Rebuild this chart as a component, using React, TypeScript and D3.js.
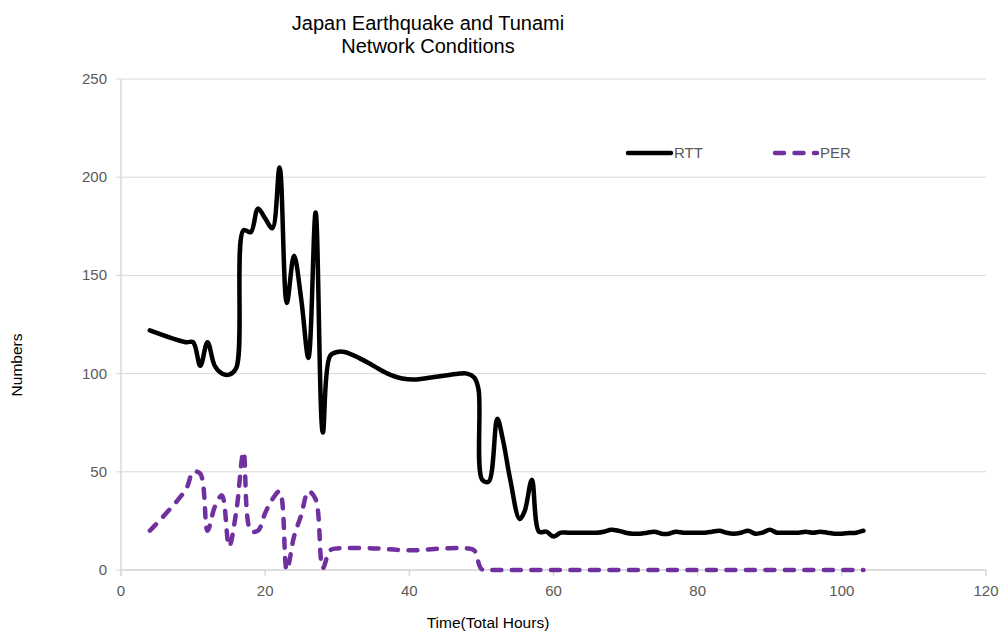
import React from "react";
import * as d3 from "d3";

// Hours since the event and round-trip time (ms)
const rttHours = [4, 9, 10, 11, 12, 13, 14, 15, 16, 17, 18, 19, 20, 21, 22, 23, 24, 25, 26, 27, 28, 29, 30, 31, 33, 35, 37, 39, 41, 43, 45, 47, 48, 49, 49.6, 50.1, 51, 52.2, 53, 54, 55.3, 56, 57, 58, 59, 60, 61, 62, 63, 64, 65, 66, 67, 68, 69, 70, 71, 72, 73, 74, 75, 76, 77, 78, 79, 80, 81, 82, 83, 84, 85, 86, 87, 88, 89, 90, 91, 92, 93, 94, 95, 96, 97, 98, 99, 100, 101, 102, 103];
const rttValues = [122, 116, 116, 104, 116, 104, 100, 99.5, 103, 173, 172, 184, 179, 174, 205, 136, 160, 138, 108, 182, 70, 109, 111, 111, 108, 104, 100, 97.5, 97, 98, 99, 100, 100, 98, 92, 46, 45, 77, 66, 46, 26, 30, 46, 19.5, 19.5, 17, 19, 19, 19, 19, 19, 19, 19.5, 20.5, 20, 19, 18.5, 18.5, 19, 19.5, 18.5, 18.5, 19.5, 19, 19, 19, 19, 19.5, 20, 19, 18.5, 19, 20, 18.5, 19, 20.5, 19, 19, 19, 19, 19.5, 19, 19.5, 19, 18.5, 18.5, 18.8, 19, 20];

// Hours since the event and packet error rate
const perHours = [4, 9, 10, 11, 12, 13, 14, 15, 16, 17, 18, 19, 20, 21, 22, 23, 24, 25, 26, 27, 28, 29, 30, 35, 40, 45, 48, 49, 50, 51, 52, 55, 60, 65, 70, 75, 80, 85, 90, 95, 100, 103];
const perValues = [20, 41, 50, 49, 20, 32, 38, 12, 30, 60, 20, 20, 29, 36, 40, 0, 17, 28, 40, 36, 1, 10, 11, 11, 10, 11, 11, 10, 0.5, 0, 0, 0, 0, 0, 0, 0, 0, 0, 0, 0, 0, 0];

const xTicks = [0, 20, 40, 60, 80, 100, 120];
const yTicks = [0, 50, 100, 150, 200, 250];

const titleLines = ["Japan Earthquake and Tunami", "Network Conditions"];

const W = 1000;
const H = 632;
const plot = { left: 121, right: 986, top: 79, bottom: 570 };
const font = "'Liberation Sans', Arial, sans-serif";
const textColor = "#595959";
const gridColor = "#d9d9d9";
const perColor = "#7030a0";

export default function App() {
  const x = d3.scaleLinear().domain([0, 120]).range([plot.left, plot.right]);
  const y = d3.scaleLinear().domain([0, 250]).range([plot.bottom, plot.top]);

  const line = d3
    .line<[number, number]>()
    .x((d) => x(d[0]))
    .y((d) => y(d[1]))
    .curve(d3.curveCatmullRom.alpha(0.5));

  const rttPath = line(rttHours.map((h, i) => [h, rttValues[i]]) as [number, number][]) || "";
  const perPath = line(perHours.map((h, i) => [h, perValues[i]]) as [number, number][]) || "";

  return (
    <svg
      width={W}
      height={H}
      style={{ position: "absolute", left: 0, top: 0, background: "#fff" }}
      fontFamily={font}
    >
      {/* title */}
      <text x={428} textAnchor="middle" fontSize={20} fill="#000">
        <tspan x={428} y={30}>{titleLines[0]}</tspan>
        <tspan x={428} y={53}>{titleLines[1]}</tspan>
      </text>

      {/* horizontal gridlines and y ticks */}
      {yTicks.map((t) => (
        <g key={"y" + t}>
          <line x1={plot.left - 5} x2={plot.right} y1={y(t)} y2={y(t)} stroke={gridColor} strokeWidth={1} />
          <text x={107} y={y(t) + 5} textAnchor="end" fontSize={15} fill={textColor}>
            {t}
          </text>
        </g>
      ))}

      {/* axes */}
      <line x1={plot.left} x2={plot.left} y1={plot.top} y2={plot.bottom + 6} stroke={gridColor} strokeWidth={1.5} />
      <line x1={plot.left} x2={plot.right} y1={plot.bottom} y2={plot.bottom} stroke={gridColor} strokeWidth={1.5} />
      {xTicks.map((t) => (
        <g key={"x" + t}>
          <line x1={x(t)} x2={x(t)} y1={plot.bottom} y2={plot.bottom + 6} stroke={gridColor} strokeWidth={1.5} />
          <text x={x(t)} y={596} textAnchor="middle" fontSize={15} fill={textColor}>
            {t}
          </text>
        </g>
      ))}

      {/* series */}
      <path d={perPath} fill="none" stroke={perColor} strokeWidth={4.5} strokeDasharray="9 10.5" strokeLinecap="round" strokeLinejoin="round" />
      <path d={rttPath} fill="none" stroke="#000" strokeWidth={4.5} strokeLinecap="round" strokeLinejoin="round" />

      {/* legend */}
      <line x1={628} x2={671} y1={153} y2={153} stroke="#000" strokeWidth={4.5} strokeLinecap="round" />
      <text x={674} y={158} fontSize={15} fill={textColor}>RTT</text>
      <line x1={775} x2={817} y1={153} y2={153} stroke={perColor} strokeWidth={4.5} strokeDasharray="9 10.5" strokeLinecap="round" />
      <text x={820} y={158} fontSize={15} fill={textColor}>PER</text>

      {/* axis titles */}
      <text x={488} y={628} textAnchor="middle" fontSize={15.5} fill="#000">
        Time(Total Hours)
      </text>
      <text
        transform={`translate(22, 365) rotate(-90)`}
        textAnchor="middle"
        fontSize={15.5}
        fill="#000"
      >
        Numbers
      </text>
    </svg>
  );
}
